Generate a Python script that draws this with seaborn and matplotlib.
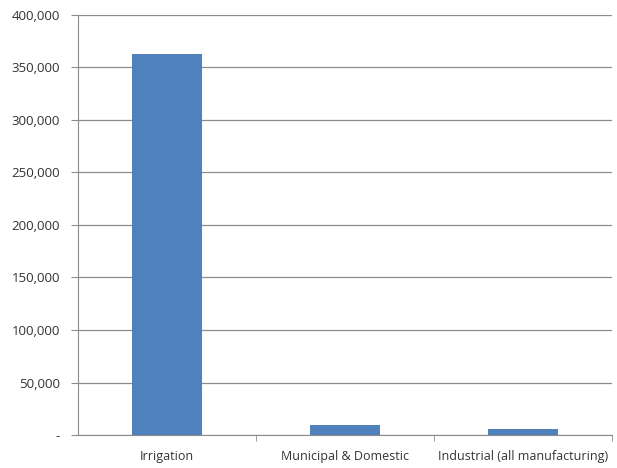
import pandas as pd
import matplotlib.pyplot as plt
import matplotlib.ticker as mticker
import seaborn as sns

categories = ["Irrigation", "Municipal & Domestic", "Industrial (all manufacturing)"]
values = [363000, 9500, 5400]
yticks = [0, 50000, 100000, 150000, 200000, 250000, 300000, 350000, 400000]

df = pd.DataFrame({"Category": categories, "Value": values})

sns.set_style("white")
plt.rcParams["font.family"] = ["Open Sans", "DejaVu Sans"]

fig = plt.figure(figsize=(6.17, 4.68), dpi=100)
ax = fig.add_axes([0.1264, 0.0705, 0.8656, 0.8975])

sns.barplot(data=df, x="Category", y="Value", color="#4F81BD", width=0.39,
            saturation=1, linewidth=0, ax=ax)

ax.set_xlim(-0.5, 2.5)
ax.set_ylim(0, 400000)
ax.set_yticks(yticks)
ax.yaxis.set_major_formatter(mticker.FuncFormatter(
    lambda v, p: "-" if v == 0 else f"{int(v):,}"))
ax.grid(axis="y", color="#8c8c8c", linewidth=0.9)
ax.set_axisbelow(True)

for s in ["top", "right"]:
    ax.spines[s].set_visible(False)
ax.spines["left"].set_color("#8c8c8c")
ax.spines["bottom"].set_color("#8c8c8c")

ax.set_xlabel("")
ax.set_ylabel("")
ax.tick_params(axis="y", left=True, length=5, color="#8c8c8c", labelsize=9.5,
               labelcolor="#333333", pad=8)
ax.tick_params(axis="x", which="major", length=0, labelsize=9,
               labelcolor="#333333", pad=11)
ax.set_xticks([0.5, 1.5, 2.5], minor=True)
ax.tick_params(axis="x", which="minor", bottom=True, length=4, color="#8c8c8c")

fig.savefig("out.png", dpi=100)
